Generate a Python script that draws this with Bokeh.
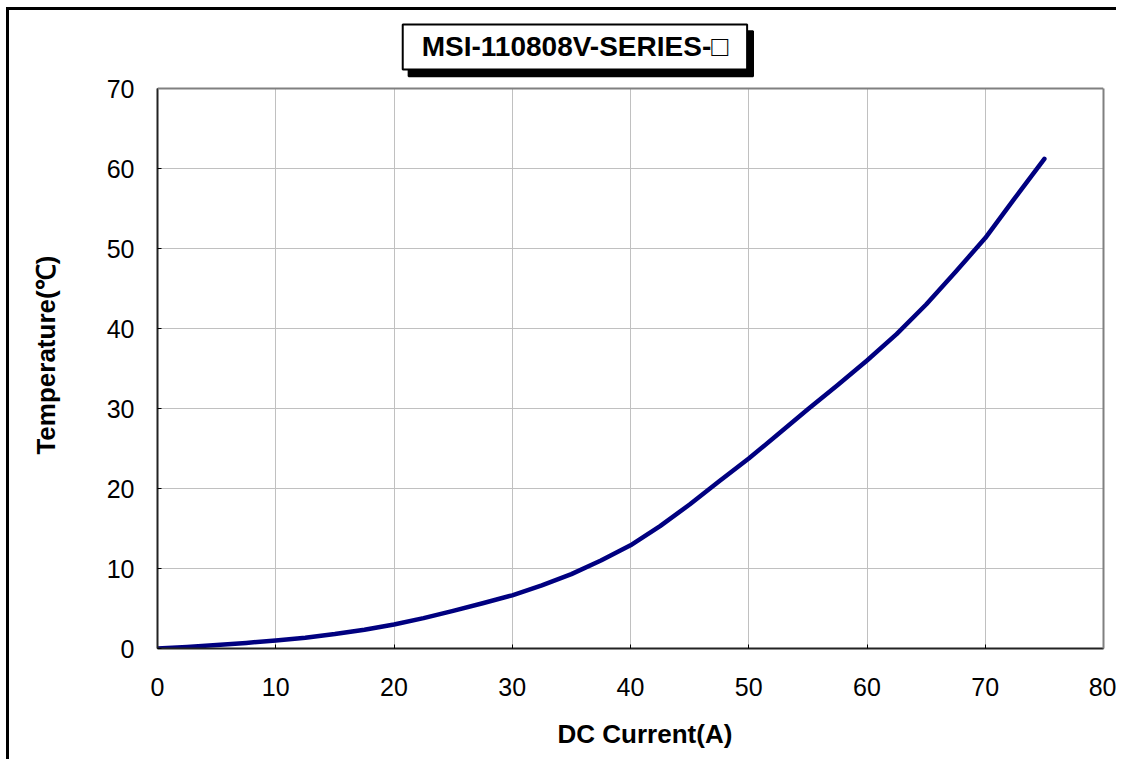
from bokeh.plotting import figure
from bokeh.models import Range1d, LinearAxis, FixedTicker, Label, Span, Grid
from bokeh.embed import file_html
from bokeh.resources import INLINE

# ---- data ----
current_a = [0, 2.5, 5, 7.5, 10, 12.5, 15, 17.5, 20, 22.5, 25, 27.5, 30, 32.5, 35, 37.5,
             40, 42.5, 45, 47.5, 50, 52.5, 55, 57.5, 60, 62.5, 65, 67.5, 70, 72.5, 75]
temperature_c = [0, 0.2, 0.45, 0.7, 1.0, 1.35, 1.8, 2.35, 3.0, 3.8, 4.7, 5.65, 6.65, 7.9, 9.3, 11.0,
                 12.9, 15.3, 18.0, 20.9, 23.75, 26.8, 29.9, 32.9, 36.0, 39.3, 43.0, 47.1, 51.3, 56.3, 61.2]
x_ticks = [0, 10, 20, 30, 40, 50, 60, 70, 80]
y_ticks = [0, 10, 20, 30, 40, 50, 60, 70]
title_text = "MSI-110808V-SERIES-\u25a1"
x_label = "DC Current(A)"
y_label = "Temperature(\u2103)"

FONT = "Liberation Sans"
NBSP = "\u00a0"
X_MAX = x_ticks[-1]
Y_MAX = y_ticks[-1]
Y_TOP = 78.75   # extra head-room above the plot box for the title box

p = figure(
    width=1110, height=752,
    x_range=Range1d(0, X_MAX), y_range=Range1d(0, Y_TOP),
    output_backend="svg", toolbar_location=None,
    min_border_left=148, min_border_right=16,
    min_border_top=8, min_border_bottom=114,
    background_fill_color="white", border_fill_color="white",
    outline_line_color=None,
    styles={"border-left": "3px solid black", "border-top": "3px solid black",
            "margin-left": "6px", "margin-top": "7px"},
)
p.title.text = ""

# grid
p.ygrid.ticker = FixedTicker(ticks=y_ticks)
for g in (p.xgrid, p.ygrid):
    g.grid_line_color = "#c0c0c0"
    g.grid_line_width = 1
if "cross_bounds" in Grid.properties():
    p.xgrid.cross_bounds = (0, Y_MAX)
else:
    p.xgrid.visible = False
    p.segment(x0=x_ticks, y0=[0] * len(x_ticks), x1=x_ticks, y1=[Y_MAX] * len(x_ticks),
              line_color="#c0c0c0", line_width=1)

# main axes
xa = p.xaxis[0]
ya = p.yaxis[0]
xa.ticker = FixedTicker(ticks=x_ticks)
ya.ticker = FixedTicker(ticks=y_ticks)
ya.bounds = (0, Y_MAX)
for ax in (xa, ya):
    ax.axis_line_color = "#222222"
    ax.axis_line_width = 2
    ax.major_tick_line_color = "black"
    ax.major_tick_line_width = 1
    ax.major_tick_in = 4
    ax.major_tick_out = 0
    ax.minor_tick_line_color = None
    ax.major_label_text_font = FONT
    ax.major_label_text_font_size = "25px"
    ax.major_label_text_color = "black"
    ax.axis_label_text_font = FONT
    ax.axis_label_text_font_size = "26px"
    ax.axis_label_text_font_style = "bold"
    ax.axis_label_text_color = "black"
# non-breaking spaces only nudge the centred labels to the reference position
xa.axis_label = NBSP * 4 + x_label
ya.axis_label = y_label + NBSP * 6
xa.major_label_standoff = 29
ya.major_label_standoff = 23
xa.axis_label_standoff = 20
ya.axis_label_standoff = 43

# gray top / right edges of the plot box
ra = LinearAxis(ticker=FixedTicker(ticks=[]), bounds=(0, Y_MAX))
ra.axis_line_color = "#808080"
ra.axis_line_width = 2
ra.major_tick_line_color = None
ra.minor_tick_line_color = None
ra.major_tick_out = 0
ra.major_tick_in = 0
ra.major_label_standoff = 0
p.add_layout(ra, "right")
p.add_layout(Span(location=Y_MAX, dimension="width", line_color="#808080", line_width=2))

# curve
p.line(current_a, temperature_c, line_color="#000080", line_width=4.5,
       line_cap="round", line_join="round")

# title box with drop shadow
tx, ty = 35.3, 75.2
pad = (19, 7)
common = dict(text=title_text, text_align="center", text_baseline="middle",
              text_font=FONT, text_font_size="28px", text_font_style="bold",
              border_line_color="black", border_line_width=2, padding=pad)
shadow = Label(x=tx + 0.5, y=ty - 0.85, text_color="black",
               background_fill_color="black", **common)
main = Label(x=tx, y=ty, text_color="black", background_fill_color="white", **common)
p.add_layout(shadow)
p.add_layout(main)

open("out.html", "w").write(file_html(p, INLINE))
